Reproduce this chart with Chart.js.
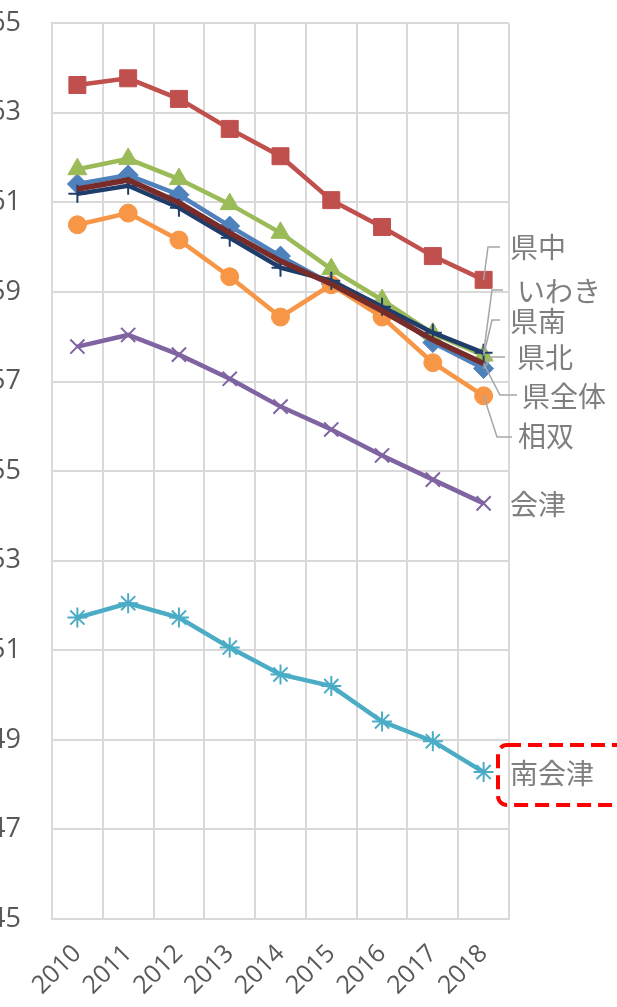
<!DOCTYPE html>
<html>
<head>
<meta charset="utf-8">
<script src="https://cdn.jsdelivr.net/npm/chart.js@4/dist/chart.umd.min.js"></script>
<style>
  html, body { margin: 0; padding: 0; background: #fff; overflow: hidden; }
  #wrap { position: absolute; left: -10px; top: -24px; width: 627px; height: 1031px; }
</style>
</head>
<body>
<div id="wrap"><canvas id="chart"></canvas></div>
<script>
// years on the x axis
var years = ['2010', '2011', '2012', '2013', '2014', '2015', '2016', '2017', '2018'];

// series values
var kenpoku   = [61.41, 61.61, 61.17, 60.47, 59.80, 59.18, 58.69, 57.87, 57.29]; // 県北
var kenchu    = [63.62, 63.77, 63.31, 62.64, 62.03, 61.05, 60.45, 59.80, 59.27]; // 県中
var kennan    = [61.74, 61.97, 61.52, 60.96, 60.32, 59.51, 58.82, 58.07, 57.58]; // 県南
var aizu      = [57.78, 58.04, 57.60, 57.06, 56.44, 55.93, 55.35, 54.81, 54.28]; // 会津
var minamiAizu = [51.73, 52.05, 51.73, 51.06, 50.46, 50.20, 49.41, 48.97, 48.28]; // 南会津
var soso      = [60.50, 60.76, 60.16, 59.34, 58.44, 59.16, 58.44, 57.42, 56.68]; // 相双
var iwaki     = [61.19, 61.37, 60.88, 60.21, 59.54, 59.25, 58.67, 58.09, 57.64]; // いわき
var kenzentai = [61.30, 61.50, 60.99, 60.32, 59.69, 59.18, 58.58, 57.93, 57.40]; // 県全体

var seriesNames = ['県北', '県中', '県南', '会津', '南会津', '相双', 'いわき', '県全体'];

// y axis range
var yMin = 45, yMax = 65, yStep = 2;

function ds(label, data, color, style, radius, opts) {
    var d = {
        label: label,
        data: data,
        borderColor: color,
        backgroundColor: color,
        borderWidth: 4.5,
        pointStyle: style,
        pointRadius: radius,
        pointBorderColor: color,
        pointBackgroundColor: color,
        pointBorderWidth: 1,
        tension: 0
    };
    for (var k in opts) d[k] = opts[k];
    return d;
}

var datasets = [
    ds(seriesNames[0], kenpoku, '#4F81BD', 'rectRot', 10),
    ds(seriesNames[1], kenchu, '#C0504D', 'rect', 12),
    ds(seriesNames[2], kennan, '#9BBB59', 'triangle', 11),
    ds(seriesNames[3], aizu, '#8064A2', 'crossRot', 10, { pointBorderWidth: 2 }),
    ds(seriesNames[4], minamiAizu, '#4BACC6', 'star', 10, { pointBorderWidth: 2 }),
    ds(seriesNames[5], soso, '#F79646', 'circle', 9),
    ds(seriesNames[6], iwaki, '#1F3D6B', 'cross', 9, { pointBorderWidth: 2 }),
    ds(seriesNames[7], kenzentai, '#772C2A', 'circle', 0, { borderWidth: 5.5 })
];
// later series drawn on top, like the original
datasets.forEach(function(d, i) { d.order = datasets.length - i; });

// label placement beside the last point (page px) and leader bend points
var labelPlaces = [
    { text: '県北',   x: 517, y: 357, lead: [[505, 357], [492, 357]] },
    { text: '県中',   x: 510, y: 247, lead: [[500, 247], [488, 247]] },
    { text: '県南',   x: 510, y: 321, lead: [[500, 320], [492, 320]] },
    { text: '会津',   x: 510, y: 504, lead: null },
    { text: '南会津', x: 510, y: 773, lead: null },
    { text: '相双',   x: 518, y: 436, lead: [[512, 437], [497, 437]] },
    { text: 'いわき', x: 517, y: 291, lead: [[503, 290], [492, 290]] },
    { text: '県全体', x: 522, y: 396, lead: [[517, 395], [500, 395]] }
];

var endLabels = {
    id: 'endLabels',
    afterDatasetsDraw: function(chart) {
        var ctx = chart.ctx;
        var last = years.length - 1;
        ctx.save();
        // page -> canvas offset of the wrapper
        ctx.translate(10, 24);
        // leaders
        ctx.strokeStyle = '#A6A6A6';
        ctx.lineWidth = 1.5;
        labelPlaces.forEach(function(p, i) {
            if (!p.lead) return;
            var pt = chart.getDatasetMeta(i).data[last];
            ctx.beginPath();
            ctx.moveTo(p.lead[0][0], p.lead[0][1]);
            ctx.lineTo(p.lead[1][0], p.lead[1][1]);
            ctx.lineTo(pt.x - 10, pt.y - 24);
            ctx.stroke();
        });
        // texts
        ctx.fillStyle = '#7F7F7F';
        ctx.font = '28px "Noto Sans CJK JP", sans-serif';
        ctx.textAlign = 'left';
        ctx.textBaseline = 'middle';
        labelPlaces.forEach(function(p) {
            ctx.fillText(p.text, p.x, p.y);
        });
        // red dashed box round 南会津
        ctx.strokeStyle = '#FF0000';
        ctx.lineWidth = 4;
        ctx.setLineDash([14, 7]);
        ctx.beginPath();
        ctx.roundRect(498, 745, 130, 60, 9);
        ctx.stroke();
        ctx.restore();
    }
};

var ctx = document.getElementById('chart').getContext('2d');
var chart = new Chart(ctx, {
    type: 'line',
    data: { labels: years, datasets: datasets },
    options: {
        responsive: true,
        maintainAspectRatio: false,
        animation: false,
        layout: { padding: { top: 0, right: 108, left: 0, bottom: 0 } },
        plugins: { legend: { display: false }, tooltip: { enabled: false } },
        scales: {
            x: {
                offset: true,
                grid: { offset: true, color: '#D9D9D9', lineWidth: 2, drawTicks: false },
                border: { color: '#D9D9D9', width: 2 },
                ticks: {
                    color: '#595959',
                    font: { family: 'Open Sans', size: 25 },
                    minRotation: 45,
                    maxRotation: 45,
                    autoSkip: false,
                    padding: 20
                },
                afterFit: function(scale) { scale.height = 88; }
            },
            y: {
                min: yMin,
                max: yMax,
                grid: { color: '#D9D9D9', lineWidth: 2, drawTicks: false },
                border: { color: '#D9D9D9', width: 2 },
                ticks: {
                    stepSize: yStep,
                    color: '#595959',
                    font: { family: 'Open Sans', size: 27 },
                    padding: 31
                },
                afterFit: function(scale) { scale.width = 62; }
            }
        }
    },
    plugins: [endLabels]
});
</script>
</body>
</html>
